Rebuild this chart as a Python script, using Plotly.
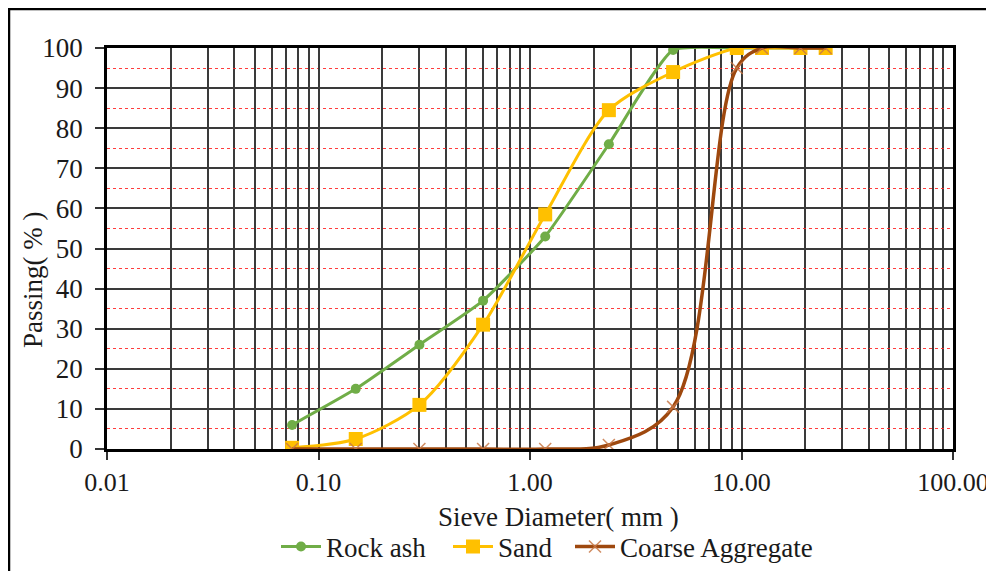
import plotly.graph_objects as go

sieve = [0.075, 0.15, 0.3, 0.6, 1.18, 2.36, 4.75, 9.5, 12.5, 19, 25]
rock_ash = [6, 15, 26, 37, 53, 76, 99.5, 100, 100, 100, 100]
sand = [0.3, 2.5, 11, 31, 58.5, 84.5, 94, 100, 100, 100, 100]
coarse = [0, 0, 0, 0, 0, 1, 10.5, 95, 100, 100, 100]

decades = [0.01, 0.1, 1, 10, 100]
decade_labels = ["0.01", "0.10", "1.00", "10.00", "100.00"]
minor_vals = [d * k for d in [0.01, 0.1, 1, 10] for k in range(2, 10)]

FONT = "Liberation Serif, Times New Roman, serif"
FS = 27

fig = go.Figure()
fig.add_trace(go.Scatter(
    x=sieve, y=rock_ash, name="Rock ash", mode="lines+markers", legend="legend",
    line=dict(color="#70AD47", width=3, shape="spline", smoothing=0.5),
    marker=dict(symbol="circle", size=10, color="#70AD47")))
fig.add_trace(go.Scatter(
    x=sieve, y=sand, name="Sand", mode="lines+markers", legend="legend2",
    line=dict(color="#FFC000", width=3, shape="spline", smoothing=0.8),
    marker=dict(symbol="square", size=14, color="#FFC000")))
fig.add_trace(go.Scatter(
    x=sieve, y=coarse, name="Coarse Aggregate", mode="lines+markers", legend="legend3",
    line=dict(color="#9E480E", width=3.5, shape="spline", smoothing=1.0),
    marker=dict(symbol="x-thin", size=12, line=dict(color="rgba(200,120,70,0.85)", width=1.5))))

# page has an 8px body margin; size the figure so it fits the 994x571 window exactly
W, H = 986, 563
pw, ph = 846, 401
ml, mt = 99, 40
mr, mb = W - ml - pw, H - mt - ph


def px_x(fx):
    return (fx - ml) / pw


def px_y(fy):
    return 1 - (fy - mt) / ph


leg_common = dict(orientation="h", xanchor="left", yref="container", y=1 - 539 / H,
                  yanchor="middle", font=dict(family=FONT, size=FS), itemwidth=40,
                  bgcolor="rgba(0,0,0,0)")

fig.update_layout(
    width=W, height=H,
    margin=dict(l=ml, r=mr, t=mt, b=mb, autoexpand=False),
    paper_bgcolor="white", plot_bgcolor="white",
    font=dict(family=FONT, size=FS, color="#1a1a1a"),
    showlegend=True,
    legend=dict(x=px_x(268), **leg_common),
    legend2=dict(x=px_x(440), **leg_common),
    legend3=dict(x=px_x(562), **leg_common),
    xaxis=dict(
        type="log", range=[-2, 2], automargin=False,
        tickmode="array", tickvals=decades, ticktext=decade_labels,
        ticks="outside", ticklen=8, tickcolor="#333", tickwidth=1.5,
        ticklabelstandoff=0, ticklabeloverflow="allow",
        tickfont=dict(family=FONT, size=26),
        showgrid=True, gridcolor="#3a3a3a", gridwidth=1.5,
        minor=dict(tickmode="array", tickvals=minor_vals, showgrid=True,
                   gridcolor="#3a3a3a", gridwidth=1.5, ticks=""),
        showline=True, linecolor="black", linewidth=2.5, mirror=True,
        zeroline=False,
    ),
    yaxis=dict(
        range=[0, 100], dtick=10, tick0=0, automargin=False,
        ticks="outside", ticklen=9, tickcolor="#333", tickwidth=1.5,
        ticklabelstandoff=7, ticklabeloverflow="allow",
        tickfont=dict(family=FONT, size=FS),
        showgrid=True, gridcolor="#3a3a3a", gridwidth=1.5,
        minor=dict(dtick=5, showgrid=True, gridcolor="rgba(255,40,40,0.9)", gridwidth=1, griddash="dot", ticks=""),
        showline=True, linecolor="black", linewidth=2.5, mirror=True,
        zeroline=False,
    ),
    annotations=[
        dict(text="Sieve Diameter( mm )", xref="paper", yref="paper",
             x=px_x(550), y=px_y(509), xanchor="center", yanchor="middle",
             showarrow=False, font=dict(family=FONT, size=FS)),
        dict(text="Passing( % )", xref="paper", yref="paper", textangle=-90,
             x=px_x(25), y=px_y(272), xanchor="center", yanchor="middle",
             showarrow=False, font=dict(family=FONT, size=FS)),
    ],
)

# outer chart frame (left and top edges visible; right/bottom lie beyond the canvas)
fig.add_shape(type="rect", xref="paper", yref="paper",
              x0=px_x(1), x1=px_x(1010), y0=px_y(600), y1=px_y(1),
              line=dict(color="black", width=2.5), fillcolor="rgba(0,0,0,0)", layer="below")

fig.write_html("out.html")
